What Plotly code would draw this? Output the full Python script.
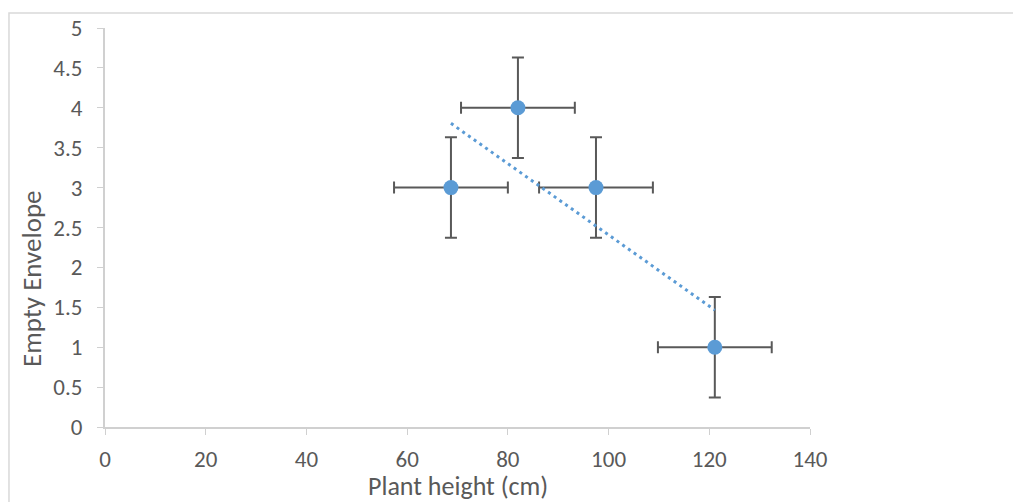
import numpy as np
import plotly.graph_objects as go

# Data
plant_height = [68.7, 82.0, 97.5, 121.1]
empty_envelope = [3, 4, 3, 1]
height_err = [11.3, 11.3, 11.3, 11.3]
envelope_err = [0.63, 0.63, 0.63, 0.63]

x_ticks = [0, 20, 40, 60, 80, 100, 120, 140]
y_ticks = [0, 0.5, 1, 1.5, 2, 2.5, 3, 3.5, 4, 4.5, 5]

x_title = "Plant height (cm)"
y_title = "Empty Envelope"

# Linear trendline (least squares), drawn over the data range
slope, intercept = np.polyfit(plant_height, empty_envelope, 1)
trend_x = [min(plant_height), max(plant_height)]
trend_y = [slope * v + intercept for v in trend_x]

FONT = "Carlito, Lato, sans-serif"
BLUE = "#5b9bd5"
GREY = "#595959"

fig = go.Figure()
fig.add_trace(go.Scatter(
    x=plant_height, y=empty_envelope, mode="markers",
    marker=dict(color=BLUE, size=15, line=dict(width=0)),
    error_x=dict(type="data", array=height_err, color=GREY, thickness=2, width=6),
    error_y=dict(type="data", array=envelope_err, color=GREY, thickness=2, width=6),
    showlegend=False,
))
fig.add_trace(go.Scatter(
    x=trend_x, y=trend_y, mode="lines",
    line=dict(color=BLUE, width=3, dash="3px,4px"),
    showlegend=False, hoverinfo="skip",
))

fig.update_layout(
    width=1021, height=502,
    margin=dict(l=97, r=219, t=20, b=83),
    paper_bgcolor="white", plot_bgcolor="white",
    font=dict(family=FONT, color=GREY, size=23),
    xaxis=dict(
        range=[0, 140], tickvals=x_ticks, ticktext=[str(v) for v in x_ticks],
        showgrid=False, zeroline=False, showline=True, linecolor="#d0d0d0", linewidth=2,
        ticks="outside", ticklen=6, tickcolor="#d0d0d0", tickwidth=1,
        ticklabelstandoff=4, automargin=False,
        tickfont=dict(size=23, color=GREY),
        fixedrange=True,
    ),
    yaxis=dict(
        range=[0, 5], tickvals=y_ticks, ticktext=[f"{v:g}" for v in y_ticks],
        showgrid=False, zeroline=False, showline=True, linecolor="#d0d0d0", linewidth=2,
        ticks="outside", ticklen=6, tickcolor="#d0d0d0", tickwidth=1,
        ticklabelstandoff=10, automargin=False,
        tickfont=dict(size=23, color=GREY),
        fixedrange=True,
    ),
    annotations=[
        dict(
            text=y_title, xref="paper", yref="paper", x=-0.1035, y=0.371,
            xanchor="center", yanchor="middle", textangle=-90, showarrow=False,
            font=dict(size=27, color=GREY, family=FONT),
        ),
        dict(
            text=x_title, xref="paper", yref="paper", x=0.5, y=-0.148,
            xanchor="center", yanchor="middle", showarrow=False,
            font=dict(size=26, color=GREY, family=FONT),
        ),
    ],
    shapes=[dict(
        type="rect", xref="paper", yref="paper",
        x0=-0.1362, x1=1.31, y0=-0.21, y1=1.0376,
        line=dict(color="#d9d9d9", width=1.5), fillcolor="rgba(0,0,0,0)", layer="below",
    )],
)

fig.write_html("out.html")
